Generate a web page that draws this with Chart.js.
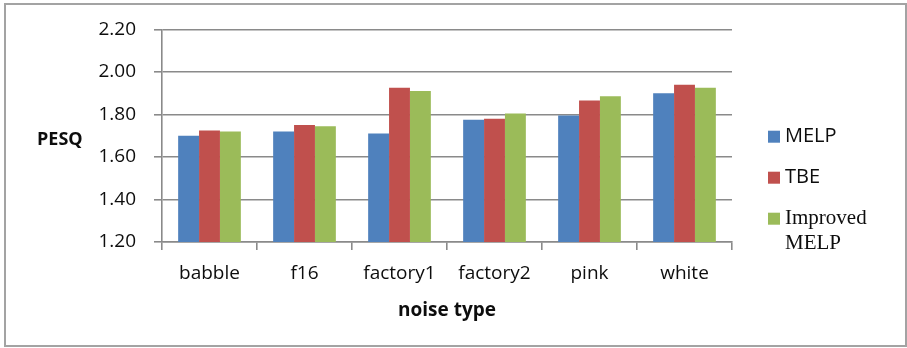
<!DOCTYPE html>
<html>
<head>
<meta charset="utf-8">
<script src="https://cdn.jsdelivr.net/npm/chart.js@4.4.1/dist/chart.umd.min.js"></script>
<style>
  html, body { margin: 0; padding: 0; background: #ffffff; }
  #wrap { position: relative; width: 907px; height: 348px; }
  #frame {
    position: absolute; left: 4px; top: 3px; width: 899px; height: 340px;
    border: 2px solid #a3a3a3; pointer-events: none;
  }
  canvas { position: absolute; left: 0; top: 0; }
</style>
</head>
<body>
<div id="wrap">
  <canvas id="chart" width="907" height="348"></canvas>
  <div id="frame"></div>
</div>
<script>
// Noise types on the category axis
const categories = ['babble', 'f16', 'factory1', 'factory2', 'pink', 'white'];

// PESQ score per noise type
const melp     = [1.70, 1.72, 1.71, 1.775, 1.795, 1.90];
const tbe      = [1.725, 1.75, 1.925, 1.78, 1.865, 1.94];
const improved = [1.72, 1.745, 1.91, 1.805, 1.885, 1.925];

const seriesNames = ['MELP', 'TBE', 'Improved MELP'];
const seriesColors = ['#4F81BD', '#C0504D', '#9BBB59'];

const yAxisTitle = 'PESQ';
const xAxisTitle = 'noise type';

const SANS = '"Open Sans", "DejaVu Sans", sans-serif';
const SERIF = '"Liberation Serif", "DejaVu Serif", serif';
const GRID = '#8a8a8a';
const TEXT = '#0d0d0d';

// Horizontal y-axis title drawn beside the tick labels
const yTitlePlugin = {
  id: 'yTitle',
  afterDraw(chart) {
    const ctx = chart.ctx;
    const area = chart.chartArea;
    ctx.save();
    ctx.font = 'bold 18px ' + SANS;
    ctx.fillStyle = TEXT;
    ctx.textAlign = 'left';
    ctx.textBaseline = 'middle';
    ctx.fillText(yAxisTitle, 37, area.top + (area.bottom - area.top) * 0.52);
    ctx.restore();
  }
};

// Legend on the right: square swatch + label; the last label wraps in a serif face
const sideLegendPlugin = {
  id: 'sideLegend',
  afterDraw(chart) {
    const ctx = chart.ctx;
    const area = chart.chartArea;
    const x0 = area.right + 36;
    const yMid = (area.top + area.bottom) / 2 + 1;
    ctx.save();
    chart.data.datasets.forEach((ds, i) => {
      const cy = yMid + i * 41;
      ctx.fillStyle = ds.backgroundColor;
      ctx.fillRect(x0, cy - 6, 12, 12);
      ctx.fillStyle = TEXT;
      ctx.textAlign = 'left';
      ctx.textBaseline = 'middle';
      const words = ds.label.split(' ');
      if (words.length > 1) {
        ctx.font = '21px ' + SERIF;
        ctx.textBaseline = 'alphabetic';
        ctx.fillText(words[0], x0 + 17, cy + 5);
        ctx.fillText(words.slice(1).join(' '), x0 + 17, cy + 30);
      } else {
        ctx.font = '20px ' + SANS;
        ctx.fillText(ds.label, x0 + 17, cy);
      }
    });
    ctx.restore();
  }
};

new Chart(document.getElementById('chart'), {
  type: 'bar',
  data: {
    labels: categories,
    datasets: [
      { label: seriesNames[0], data: melp, backgroundColor: seriesColors[0] },
      { label: seriesNames[1], data: tbe, backgroundColor: seriesColors[1] },
      { label: seriesNames[2], data: improved, backgroundColor: seriesColors[2] }
    ]
  },
  options: {
    responsive: false,
    animation: false,
    events: [],
    layout: { padding: { left: 0, right: 175, top: 18, bottom: 26 } },
    datasets: {
      bar: { categoryPercentage: 0.66, barPercentage: 1.0, borderWidth: 0 }
    },
    plugins: {
      legend: { display: false },
      tooltip: { enabled: false },
      title: { display: false }
    },
    scales: {
      y: {
        min: 1.2,
        max: 2.2,
        ticks: {
          stepSize: 0.2,
          color: TEXT,
          font: { family: SANS, size: 19 },
          padding: 18,
          callback: v => Number(v).toFixed(2)
        },
        grid: { color: GRID, lineWidth: 1.6, tickLength: 8, tickColor: GRID },
        border: { display: true, color: GRID, width: 1.6 },
        afterFit(scale) { scale.width = 162; }
      },
      x: {
        offset: true,
        ticks: {
          color: TEXT,
          font: { family: SANS, size: 19 },
          padding: 12
        },
        grid: {
          offset: true,
          drawOnChartArea: false,
          drawTicks: true,
          tickLength: 8,
          color: GRID,
          lineWidth: 1.6
        },
        border: { display: true, color: GRID, width: 1.6 },
        title: {
          display: true,
          text: xAxisTitle,
          color: TEXT,
          font: { family: SANS, size: 19, weight: 'bold' },
          padding: { top: 7, bottom: 0 }
        },
        afterFit(scale) { scale.height = 80; }
      }
    }
  },
  plugins: [yTitlePlugin, sideLegendPlugin]
});
</script>
</body>
</html>
